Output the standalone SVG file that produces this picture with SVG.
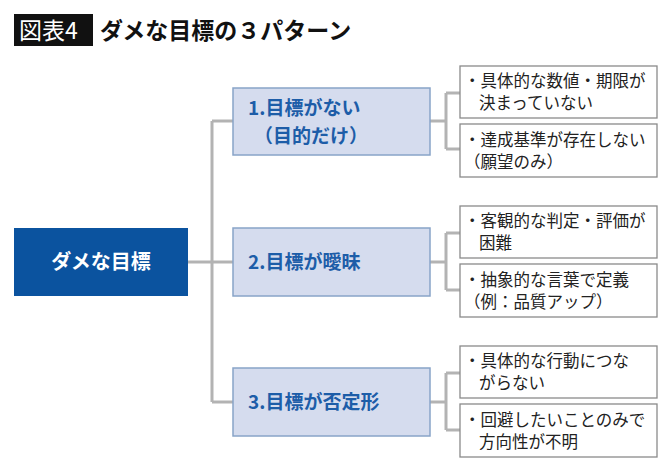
<svg xmlns="http://www.w3.org/2000/svg" width="670" height="466" viewBox="0 0 670 466">
<style>
text{font-family:"Noto Sans CJK JP","Noto Sans",sans-serif}
.mid{fill:#d5dcee;stroke:#88a4c8;stroke-width:1.5}
.mt{fill:#1d5da8;font-size:19px;font-weight:bold}
.rb{fill:#fff;stroke:#8a8a8a;stroke-width:1.3}
.rt{fill:#222;font-size:16.5px}
.c{fill:none;stroke:#b3b3b3;stroke-width:3}
</style>
<rect width="670" height="466" fill="#fff"/>
<g id="title">
<rect x="14" y="14" width="79" height="32" fill="#111"/>
<text x="19" y="39" fill="#fff" font-size="23">図表4</text>
<text x="100" y="39" fill="#111" font-size="23" font-weight="bold">ダメな目標の３パターン</text>
</g>
<g id="connectors">
<path class="c" d="M212 121V402M188 262H233M212 121H233M212 402H233"/>
<path class="c" d="M430 121H446M446 93V149M446 93H460M446 149H460"/>
<path class="c" d="M430 262H446M446 233V290M446 233H460M446 290H460"/>
<path class="c" d="M430 402H446M446 373V430M446 373H460M446 430H460"/>
</g>
<g id="root"><rect x="14" y="228" width="174" height="68" fill="#0b539f"/>
<text x="101" y="269" fill="#fff" font-size="20" font-weight="bold" text-anchor="middle">ダメな目標</text></g>
<g id="p1"><rect class="mid" x="233" y="88" width="197" height="67"/>
<text class="mt" x="248" y="115">1.目標がない</text><text class="mt" x="254" y="143">（目的だけ）</text></g>
<g id="p2"><rect class="mid" x="233" y="228" width="197" height="68"/>
<text class="mt" x="248" y="269">2.目標が曖昧</text></g>
<g id="p3"><rect class="mid" x="233" y="368" width="197" height="68"/>
<text class="mt" x="248" y="409">3.目標が否定形</text></g>
<g id="r1a"><rect class="rb" x="460" y="66" width="197" height="52"/>
<text class="rt" x="464" y="87">・具体的な数値・期限が</text><text class="rt" x="479" y="109">決まっていない</text></g>
<g id="r1b"><rect class="rb" x="460" y="124" width="197" height="53"/>
<text class="rt" x="464" y="146">・達成基準が存在しない</text><text class="rt" x="464" y="168">（願望のみ）</text></g>
<g id="r2a"><rect class="rb" x="460" y="206" width="197" height="52"/>
<text class="rt" x="464" y="227">・客観的な判定・評価が</text><text class="rt" x="479" y="249">困難</text></g>
<g id="r2b"><rect class="rb" x="460" y="264" width="197" height="53"/>
<text class="rt" x="464" y="286">・抽象的な言葉で定義</text><text class="rt" x="464" y="308">（例：品質アップ）</text></g>
<g id="r3a"><rect class="rb" x="460" y="346" width="197" height="52"/>
<text class="rt" x="464" y="367">・具体的な行動につな</text><text class="rt" x="479" y="389">がらない</text></g>
<g id="r3b"><rect class="rb" x="460" y="404" width="197" height="53"/>
<text class="rt" x="464" y="426">・回避したいことのみで</text><text class="rt" x="479" y="448">方向性が不明</text></g>
</svg>
